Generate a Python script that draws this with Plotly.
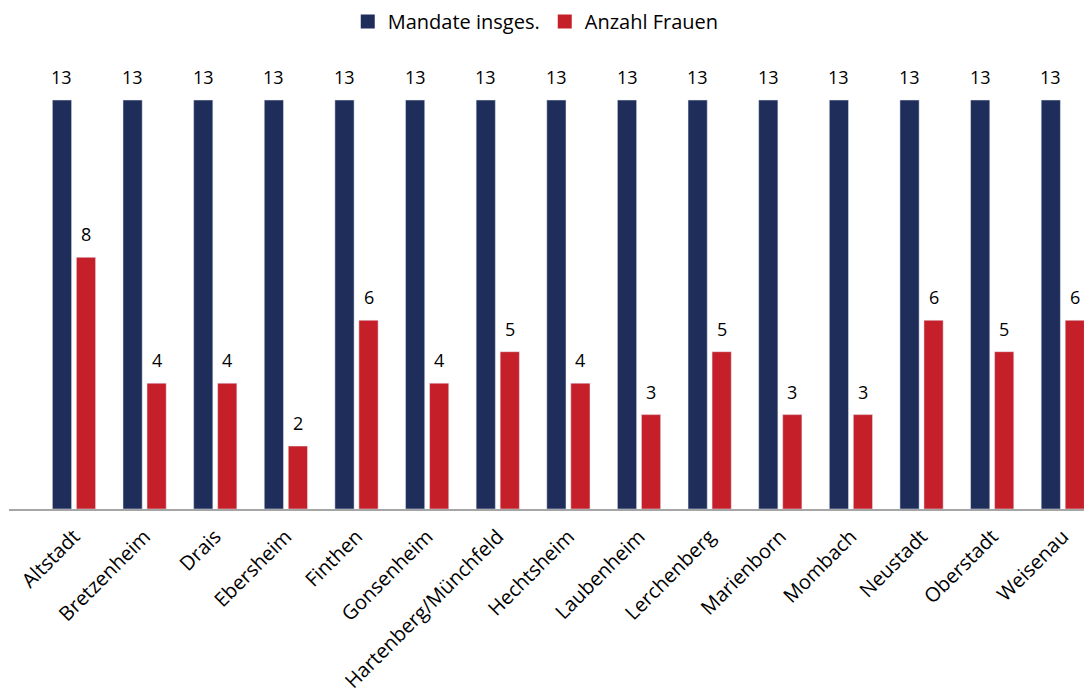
import plotly.graph_objects as go

categories = ["Altstadt", "Bretzenheim", "Drais", "Ebersheim", "Finthen", "Gonsenheim",
              "Hartenberg/Münchfeld", "Hechtsheim", "Laubenheim", "Lerchenberg",
              "Marienborn", "Mombach", "Neustadt", "Oberstadt", "Weisenau"]
mandate = [13] * 15
frauen = [8, 4, 4, 2, 6, 4, 5, 4, 3, 5, 3, 3, 6, 5, 6]
series_names = ["Mandate insges.", "Anzahl Frauen"]
series_colors = ["#1f2d5b", "#c5202a"]

font_family = "Open Sans, Noto Sans, sans-serif"

fig = go.Figure()
for vals, name, col in zip([mandate, frauen], series_names, series_colors):
    fig.add_trace(go.Bar(x=categories, y=vals, name=name, marker_color=col,
                         cliponaxis=False, showlegend=False))
for name, col in zip(series_names, series_colors):
    fig.add_trace(go.Scatter(x=[None], y=[None], mode="markers", name=name,
                             marker=dict(symbol="square", size=14, color=col)))

annotations = []
for cat, m, f in zip(categories, mandate, frauen):
    annotations.append(dict(x=cat, y=m, text=str(m), showarrow=False, xref="x", yref="y",
                            xanchor="center", yanchor="bottom", xshift=-12, yshift=9,
                            font=dict(size=18, color="#000000", family=font_family)))
    annotations.append(dict(x=cat, y=f, text=str(f), showarrow=False, xref="x", yref="y",
                            xanchor="center", yanchor="bottom", xshift=12, yshift=9,
                            font=dict(size=18, color="#000000", family=font_family)))

fig.update_layout(
    width=1084, height=700,
    margin=dict(l=9, r=0, t=50, b=191),
    plot_bgcolor="white", paper_bgcolor="white",
    barmode="group", bargap=0.32, bargroupgap=0.2,
    font=dict(family=font_family, size=20, color="#000000"),
    legend=dict(orientation="h", x=0.49, xanchor="center", y=0.997, yanchor="top",
                yref="container", font=dict(size=20), traceorder="normal",
                itemsizing="trace"),
    xaxis=dict(range=[-0.92, 14.3], tickangle=-45, showline=True, linecolor="#a6a6a6",
               linewidth=2, ticks="", tickfont=dict(size=20), ticklabelstandoff=6),
    yaxis=dict(range=[0, 14.59], visible=False, showgrid=False),
    annotations=annotations,
    showlegend=True,
)

fig.write_html("out.html")
